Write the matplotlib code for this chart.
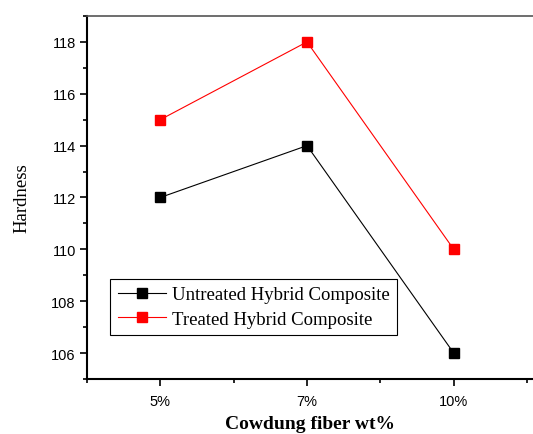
import matplotlib
matplotlib.use('Agg')
import matplotlib.pyplot as plt
from matplotlib.ticker import MultipleLocator

# data
categories = ['5%', '7%', '10%']
untreated = [112, 114, 106]
treated = [115, 118, 110]

x = list(range(1, len(categories) + 1))

fig = plt.figure(figsize=(5.33, 4.35), dpi=100)
ax = fig.add_axes([0.163, 0.1264, 0.837, 0.8346])

ax.plot(x, untreated, color='black', lw=0.8, marker='s', ms=6.5,
        label='Untreated Hybrid Composite')
ax.plot(x, treated, color='red', lw=0.8, marker='s', ms=6.5,
        label='Treated Hybrid Composite')

ax.set_xlim(0.5, 3.54)
ax.set_ylim(105, 119)
ax.set_xticks(x)
ax.set_xticklabels(categories)
ax.xaxis.set_minor_locator(MultipleLocator(0.5))
ax.yaxis.set_major_locator(MultipleLocator(2))
ax.yaxis.set_minor_locator(MultipleLocator(1))

for lab in ax.get_xticklabels() + ax.get_yticklabels():
    lab.set_family('Liberation Sans')
    lab.set_fontsize(10.5)

ax.tick_params(which='major', direction='out', length=5, width=1.2)
ax.tick_params(which='minor', direction='out', length=3, width=1.2)
ax.tick_params(axis='x', which='both', pad=6)
ax.tick_params(axis='y', which='both', pad=3)
ax.spines['right'].set_visible(False)
ax.spines['left'].set_linewidth(1.5)
ax.spines['bottom'].set_linewidth(1.5)
ax.spines['top'].set_linewidth(1.2)
ax.spines['top'].set_color('#555555')

ax.set_xlabel('Cowdung fiber wt%', family='Liberation Serif', fontsize=14,
              fontweight='bold', labelpad=5)
ax.set_ylabel('Hardness', family='Liberation Serif', fontsize=13.5, labelpad=15)

leg = ax.legend(loc='lower left', bbox_to_anchor=(0.052, 0.12),
                prop={'family': 'Liberation Serif', 'size': 13.5},
                fancybox=False, edgecolor='black', framealpha=1,
                handlelength=2.6, borderpad=0.4, labelspacing=0.4,
                handletextpad=0.3, borderaxespad=0)
leg.get_frame().set_linewidth(0.8)

fig.savefig('out.png', dpi=100)
